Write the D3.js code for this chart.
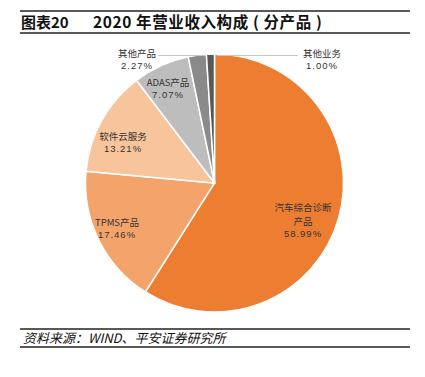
<!DOCTYPE html>
<html><head><meta charset="utf-8">
<script src="https://cdn.jsdelivr.net/npm/d3@7/dist/d3.min.js"></script>
<style>body{margin:0;background:#fff}svg{display:block}</style>
</head><body><svg id="c" width="425" height="377"></svg>
<script>
const categories = ["汽车综合诊断产品","TPMS产品","软件云服务","ADAS产品","其他产品","其他业务"];
const values = [58.99,17.46,13.21,7.07,2.27,1.00];
const valueLabels = ["58.99%","17.46%","13.21%","7.07%","2.27%","1.00%"];
const colors = ["#ED7D31","#F4A46B","#F8C49B","#BDBDBD","#8A8A8A","#585858"];

const svg = d3.select("#c");
const font = "'Noto Sans CJK SC', 'Liberation Sans', sans-serif";

// header
svg.append("line").attr("x1",20).attr("x2",410).attr("y1",11).attr("y2",11).attr("stroke","#222").attr("stroke-width",1.5);
svg.append("line").attr("x1",20).attr("x2",410).attr("y1",33).attr("y2",33).attr("stroke","#222").attr("stroke-width",1.5);
svg.append("text").attr("x",21).attr("y",28).attr("font-family",font).attr("font-weight","bold").attr("font-size",15).attr("fill","#111").text("图表20");
svg.append("text").attr("x",93).attr("y",28).attr("font-family",font).attr("font-weight","bold").attr("font-size",15.5).attr("fill","#111").attr("letter-spacing",0.6).text("2020 年营业收入构成 ( 分产品 )");

// footer
svg.append("line").attr("x1",20).attr("x2",410).attr("y1",329).attr("y2",329).attr("stroke","#222").attr("stroke-width",1.5);
svg.append("line").attr("x1",20).attr("x2",410).attr("y1",347).attr("y2",347).attr("stroke","#222").attr("stroke-width",1.5);
svg.append("text").attr("x",23).attr("y",343).attr("font-family",font).attr("font-style","italic").attr("font-size",13).attr("fill","#111").text("资料来源：WIND、平安证券研究所");

// pie
const cx = 214.5, cy = 183, r = 129;
const pie = d3.pie().sort(null).value(d => d)(values);
const arc = d3.arc().innerRadius(0).outerRadius(r);
const g = svg.append("g").attr("transform",`translate(${cx},${cy})`);
g.selectAll("path").data(pie).join("path")
  .attr("d",arc).attr("fill",(d,i)=>colors[i])
  .attr("stroke","#fff").attr("stroke-width",1.5);

const lab = [
  {x:303,y:207,lines:["汽车综合诊断","产品"]},
  {x:117,y:222,lines:["TPMS产品"]},
  {x:123,y:136,lines:["软件云服务"]},
  {x:168,y:82,lines:["ADAS产品"]},
  {x:137,y:53,lines:["其他产品"]},
  {x:322,y:53,lines:["其他业务"]}
];
const lineY = 55.5;
svg.append("line").attr("x1",158).attr("x2",206).attr("y1",lineY).attr("y2",lineY).attr("stroke","#c8c8c8").attr("stroke-width",1);
svg.append("line").attr("x1",217).attr("x2",298).attr("y1",lineY).attr("y2",lineY).attr("stroke","#c8c8c8").attr("stroke-width",1);

lab.forEach((l,i)=>{
  const t = svg.append("text").attr("font-family",font).attr("font-size",9.5).attr("fill","#333").attr("text-anchor","middle");
  l.lines.forEach((s,j)=>{
    t.append("tspan").attr("x",l.x).attr("y",l.y+3.5+j*14).text(s);
  });
  svg.append("text").attr("font-family","'Liberation Sans', sans-serif").attr("font-size",9.5).attr("fill","#333")
    .attr("text-anchor","middle").attr("letter-spacing",1)
    .attr("x",l.x).attr("y",l.y+3.5+l.lines.length*14 - 2).text(valueLabels[i]);
});
</script></body></html>
